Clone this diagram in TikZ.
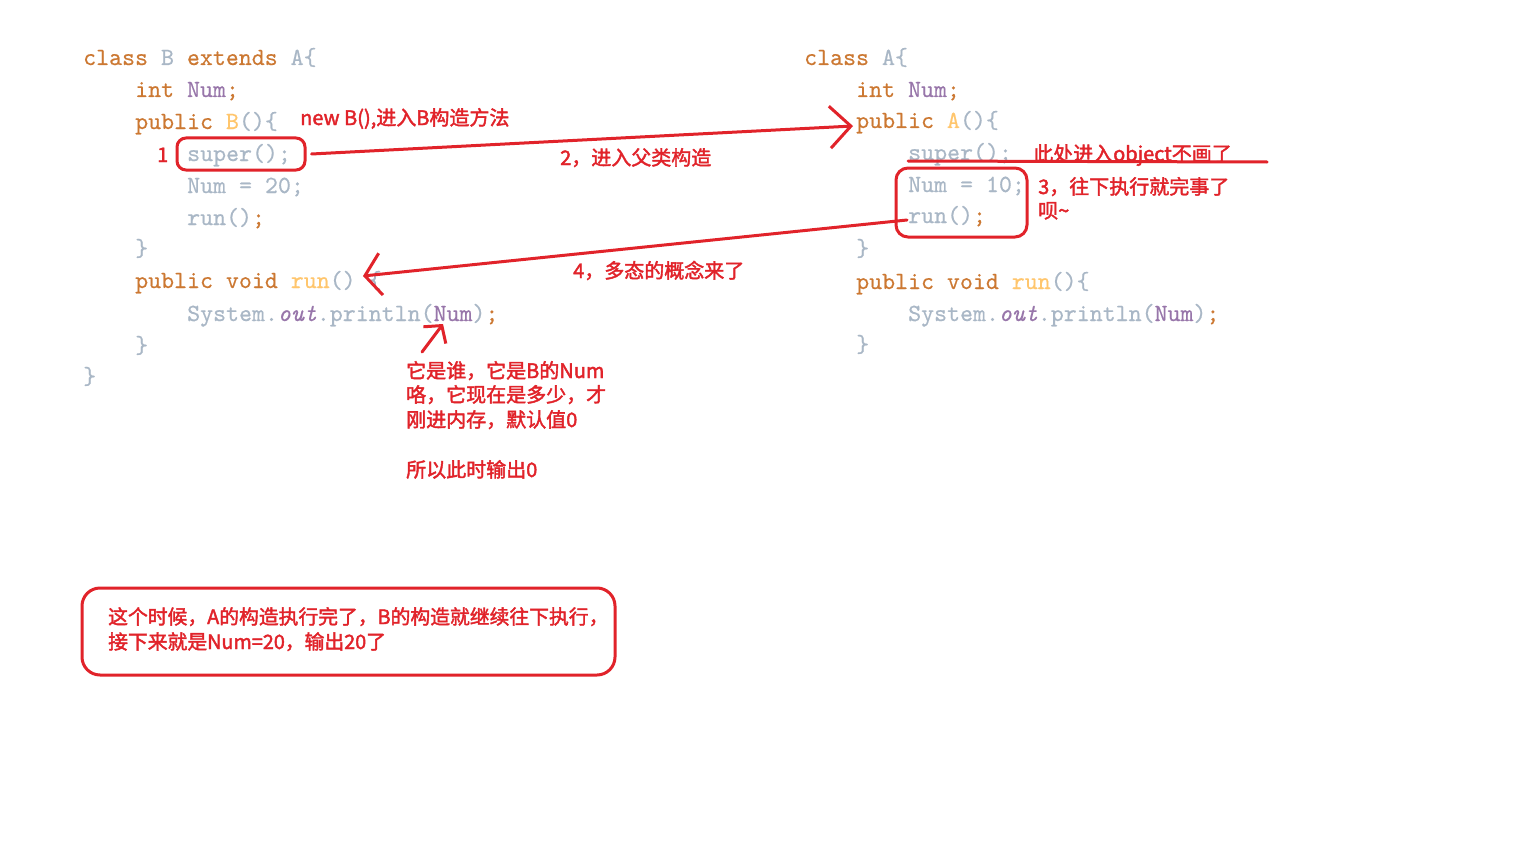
\documentclass[tikz,border=0pt]{standalone}
\usepackage{fontspec}
\usepackage{tikz}
\usetikzlibrary{arrows.meta, positioning}
\setmonofont{lmmono10-regular.otf}[ItalicFont=lmmono10-italic.otf, FakeBold=0.4]
\newfontfamily\cjk{Noto Sans CJK SC}[FakeBold=2]

\definecolor{jkeyword}{HTML}{CC7832}
\definecolor{jplain}{HTML}{A9B7C6}
\definecolor{jfield}{HTML}{9876AA}
\definecolor{jmethod}{HTML}{FFC66D}
\definecolor{penred}{HTML}{E1232A}

\newcommand{\jkw}[1]{\textcolor{jkeyword}{#1}}
\newcommand{\jpl}[1]{\textcolor{jplain}{#1}}
\newcommand{\jfd}[1]{\textcolor{jfield}{#1}}
\newcommand{\jmt}[1]{\textcolor{jmethod}{#1}}
\newcommand{\codefont}{\fontsize{24.7}{30}\selectfont\ttfamily}
\newcommand{\penfont}{\fontsize{20}{25}\selectfont\cjk}
\newcommand{\sumfont}{\fontsize{19.8}{25}\selectfont\cjk}

\begin{document}
\begin{tikzpicture}[x=1pt, y=-1pt,
  codeline/.style={anchor=base west, inner sep=0pt, font=\codefont},
  redtext/.style={anchor=base west, inner sep=0pt, text=penred, font=\penfont},
  markbox/.style={draw=penred, line width=3pt, rounded corners=9pt, inner sep=0pt},
  redline/.style={draw=penred, line width=3pt, line cap=round},
  penarrow/.style={redline, -{Straight Barb[length=21pt, width=42pt]}},
]
  \fill[white] (0,0) rectangle (1536,864);
  \useasboundingbox (0,0) rectangle (1536,864);

  % class B (left)
  \node[codeline] (clsB)   at (83,65)  {\jkw{class} \jpl{B} \jkw{extends} \jpl{A\{}};
  \node[codeline] (numB)   at (135,97) {\jkw{int} \jfd{Num}\jkw{;}};
  \node[codeline] (ctorB)  at (135,129) {\jkw{public} \jmt{B}\jpl{()\{}};
  \node[codeline] (superB) at (187,161) {\jpl{super();}};
  \node[codeline] (setB)   at (187,193) {\jpl{Num = 20;}};
  \node[codeline] (callB)  at (187,225) {\jpl{run()}\jkw{;}};
  \node[codeline] (endCtorB) at (135,256) {\jpl{\}}};
  \node[codeline] (runB)   at (135,288) {\jkw{public void} \jmt{run}\jpl{() \{}};
  \node[codeline] (printB) at (187,321) {\jpl{System.}\jfd{\textit{out}}\jpl{.println(}\jfd{Num}\jpl{)}\jkw{;}};
  \node[codeline] (endRunB) at (135,353) {\jpl{\}}};
  \node[codeline] (endB)   at (83,384)  {\jpl{\}}};

  % class A (right)
  \node[codeline] (clsA)   at (804,65)  {\jkw{class} \jpl{A\{}};
  \node[codeline] (numA)   at (856,97)  {\jkw{int} \jfd{Num}\jkw{;}};
  \node[codeline] (ctorA)  at (856,128) {\jkw{public} \jmt{A}\jpl{()\{}};
  \node[codeline] (superA) at (908,160) {\jpl{super();}};
  \node[codeline] (setA)   at (908,192) {\jpl{Num = 10;}};
  \node[codeline] (callA)  at (908,223) {\jpl{run()}\jkw{;}};
  \node[codeline] (endCtorA) at (856,256) {\jpl{\}}};
  \node[codeline] (runA)   at (856,289) {\jkw{public void} \jmt{run}\jpl{()\{}};
  \node[codeline] (printA) at (908,321) {\jpl{System.}\jfd{\textit{out}}\jpl{.println(}\jfd{Num}\jpl{)}\jkw{;}};
  \node[codeline] (endRunA) at (856,352) {\jpl{\}}};

  % marks and notes
  \node[redtext] (step1) at (157,162) {1};
  \node[markbox, minimum width=128pt, minimum height=32pt] (superBox) at (241,154) {};
  \node[redtext] (newNote) at (300,125) {new B(),进入B构造方法};
  \coordinate (tipA) at (853,126);
  \draw[penarrow] ([xshift=5pt]superBox.east) -- (tipA);
  \node[redtext] (step2) at (560,165) {2，进入父类构造};

  \node[redtext] (objNote) at (1033,161) {此处进入object不画了};
  \coordinate (strikeL) at (908,161);
  \coordinate (strikeR) at (1267,162);
  \draw[redline] (strikeL) -- (strikeR);

  \node[markbox, rounded corners=12pt, minimum width=131pt, minimum height=69pt] (restBox) at (961.5,202.5) {};
  \node[redtext] (step3a) at (1038,194) {3，往下执行就完事了};
  \node[redtext] (step3b) at (1038,218) {呗\textasciitilde};

  \coordinate (runCall) at (907,220);
  \coordinate (tipB) at (363,276);
  \draw[penarrow, -{Straight Barb[length=16pt, width=42pt]}] (runCall) -- (tipB);
  \node[redtext] (step4) at (573,278) {4，多态的概念来了};

  \coordinate (whoTail) at (422,352);
  \coordinate (whoTip) at (443,324);
  \draw[penarrow, -{Straight Barb[length=12pt, width=28pt]}] (whoTail) -- (whoTip);
  \node[redtext] (who1) at (406,378) {它是谁，它是B的Num};
  \node[redtext] (who2) at (406,402) {咯，它现在是多少，才};
  \node[redtext] (who3) at (406,427) {刚进内存，默认值0};
  \node[redtext] (who4) at (406,477) {所以此时输出0};

  % summary box
  \node[markbox, rounded corners=18pt, minimum width=533pt, minimum height=87pt] (summary) at (348.5,631.5) {};
  \node[redtext, font=\sumfont] (sum1) at (108,624) {这个时候，A的构造执行完了，B的构造就继续往下执行，};
  \node[redtext, font=\sumfont] (sum2) at (108,649) {接下来就是Num=20，输出20了};
\end{tikzpicture}
\end{document}
